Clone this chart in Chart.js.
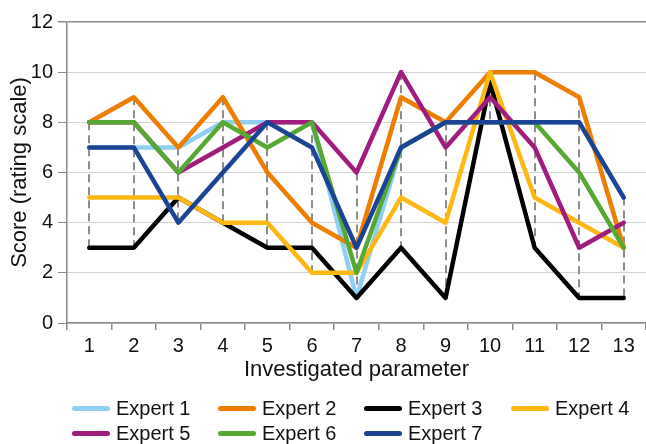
<!DOCTYPE html>
<html lang="en">
<head>
    <meta charset="UTF-8">
    <title>Expert scores</title>
    <script src="https://cdn.jsdelivr.net/npm/chart.js"></script>
    <style>
        html, body { margin: 0; padding: 0; background: #fff; }
        body { font-family: "Liberation Sans", Arial, sans-serif; }
        #wrap { position: relative; width: 646px; height: 444px; }
        #legend { position: absolute; left: 0; top: 396px; width: 646px; height: 48px; }
        .item { position: absolute; display: flex; align-items: center; height: 25px; font-size: 20px; color: #111; }
        .item .swatch { width: 38px; height: 5px; border-radius: 3px; margin-right: 6px; }
    </style>
</head>
<body>
    <div id="wrap">
        <canvas id="chart" width="646" height="444"></canvas>
        <div id="legend"></div>
    </div>

    <script>
    // categories (investigated parameter)
    const parameters = ['1', '2', '3', '4', '5', '6', '7', '8', '9', '10', '11', '12', '13'];

    // scores per expert
    const expert1 = [7, 7, 7, 8, 8, 8, 1, 7, 8, 8, 8, 8, 5];
    const expert2 = [8, 9, 7, 9, 6, 4, 3, 9, 8, 10, 10, 9, 3];
    const expert3 = [3, 3, 5, 4, 3, 3, 1, 3, 1, 9.6, 3, 1, 1];
    const expert4 = [5, 5, 5, 4, 4, 2, 2, 5, 4, 10, 5, 4, 3];
    const expert5 = [8, 8, 6, 7, 8, 8, 6, 10, 7, 9, 7, 3, 4];
    const expert6 = [8, 8, 6, 8, 7, 8, 2, 7, 8, 8, 8, 6, 3];
    const expert7 = [7, 7, 4, 6, 8, 7, 3, 7, 8, 8, 8, 8, 5];

    const seriesNames = ['Expert 1', 'Expert 2', 'Expert 3', 'Expert 4', 'Expert 5', 'Expert 6', 'Expert 7'];
    const seriesValues = [expert1, expert2, expert3, expert4, expert5, expert6, expert7];
    const colors = ['#8ED0F2', '#EE7D00', '#000000', '#FDB813', '#A01C7D', '#55A932', '#1B4594'];

    const datasets = seriesNames.map((name, i) => ({
        label: name,
        data: seriesValues[i],
        borderColor: colors[i],
        backgroundColor: colors[i],
        borderWidth: 4.5,
        borderJoinStyle: 'round',
        borderCapStyle: 'round',
        pointRadius: 0,
        tension: 0,
        fill: false,
        order: seriesNames.length - i   // later experts on top, like the original
    }));

    // dashed high-low lines behind the series
    const highLow = {
        id: 'highLow',
        beforeDatasetsDraw(chart) {
            const { ctx, scales: { x, y } } = chart;
            ctx.save();
            ctx.strokeStyle = '#8c8c8c';
            ctx.lineWidth = 2;
            ctx.setLineDash([8, 5]);
            parameters.forEach((p, i) => {
                const vals = seriesValues.map(s => s[i]);
                const px = Math.round(x.getPixelForValue(i));
                ctx.beginPath();
                ctx.moveTo(px, y.getPixelForValue(Math.max(...vals)));
                ctx.lineTo(px, y.getPixelForValue(Math.min(...vals)));
                ctx.stroke();
            });
            ctx.restore();
        }
    };

    const font = { family: '"Liberation Sans", Arial, sans-serif', size: 20 };

    new Chart(document.getElementById('chart'), {
        type: 'line',
        data: { labels: parameters, datasets: datasets },
        plugins: [highLow],
        options: {
            responsive: false,
            animation: false,
            layout: { padding: { top: 22, right: 0, left: 0, bottom: 61 } },
            plugins: {
                legend: { display: false },
                tooltip: { enabled: false }
            },
            scales: {
                x: {
                    offset: true,
                    grid: { offset: true, drawOnChartArea: false, drawTicks: true, tickLength: 7, tickColor: '#8a8a8a', lineWidth: 1.5 },
                    border: { display: true, color: '#8a8a8a', width: 1.5 },
                    ticks: { color: '#111', font: font, padding: 4, maxRotation: 0, autoSkip: false },
                    title: { display: true, text: 'Investigated parameter', color: '#111', font: { family: font.family, size: 22 }, padding: 0 },
                    afterFit(scale) { scale.height = 60; }
                },
                y: {
                    min: 0,
                    max: 12,
                    ticks: { stepSize: 2, color: '#111', font: font, padding: 5 },
                    grid: {
                        color: ctx => ctx.tick && ctx.tick.value === 12 ? '#8a8a8a' : '#d4d4d4',
                        lineWidth: ctx => ctx.tick && ctx.tick.value === 12 ? 1.5 : 1,
                        tickColor: '#8a8a8a',
                        tickLength: 9
                    },
                    border: { display: true, color: '#8a8a8a', width: 1.5 },
                    title: { display: true, text: 'Score (rating scale)', color: '#111', font: { family: font.family, size: 22 }, padding: { top: 7, bottom: 0 } },
                    afterFit(scale) { scale.width = 67; }
                }
            }
        }
    });

    // legend laid out in columns like the source figure
    const legend = document.getElementById('legend');
    const colX = [72, 218, 364, 511];
    seriesNames.forEach((name, i) => {
        const el = document.createElement('div');
        el.className = 'item';
        el.style.left = colX[i % 4] + 'px';
        el.style.top = (Math.floor(i / 4) * 25) + 'px';
        el.innerHTML = '<span class="swatch" style="background:' + colors[i] + '"></span>' + name;
        legend.appendChild(el);
    });
    </script>
</body>
</html>
